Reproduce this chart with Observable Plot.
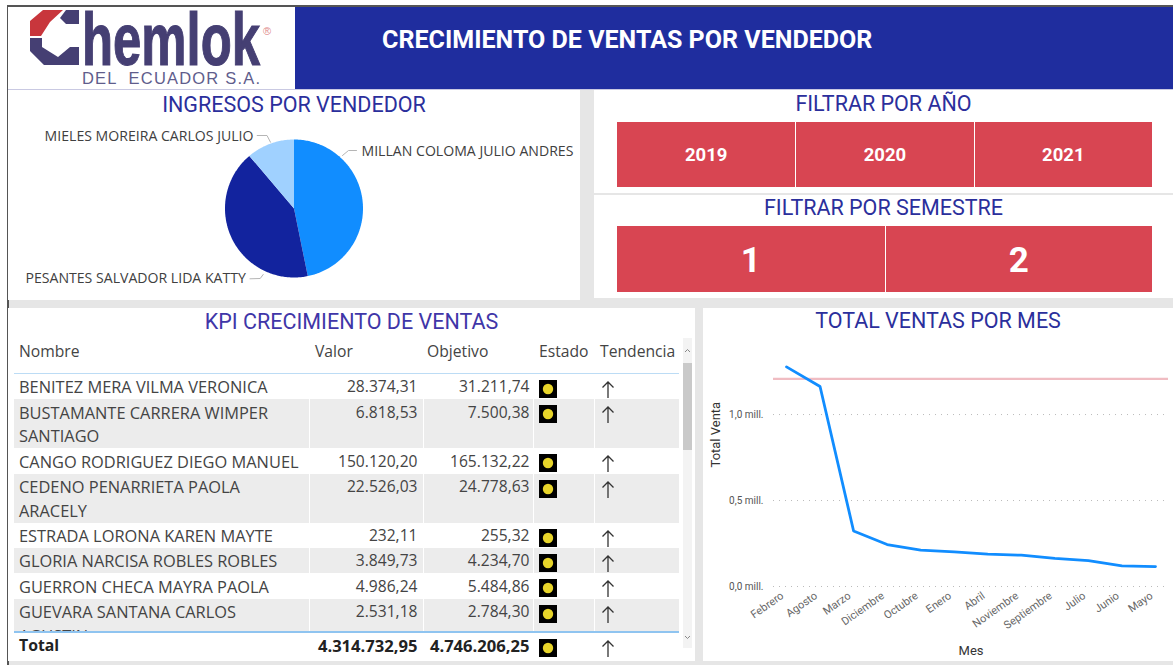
<!DOCTYPE html>
<html lang="es"><head><meta charset="utf-8">
<script src="https://cdn.jsdelivr.net/npm/d3@7"></script>
<script src="https://cdn.jsdelivr.net/npm/@observablehq/plot@0.6"></script>
<style>
html,body{margin:0;padding:0;background:#fff;overflow:hidden}
#page{position:relative;width:1173px;height:665px;background:#e6e6e6;overflow:hidden;font-family:"Open Sans",sans-serif}
.abs{position:absolute}
.panel{position:absolute;background:#fff}
.ttl{position:absolute;text-align:center;font-family:Roboto,sans-serif;color:#2b2f9c;font-size:21.5px;line-height:26px;white-space:nowrap}
.btn{position:absolute;background:#d84552;color:#fff;font-family:Roboto,sans-serif;font-weight:700;display:flex;align-items:center;justify-content:center}
table{border-collapse:collapse;table-layout:fixed;font-size:16.4px;color:#444;line-height:23.6px}
td{padding:1.4px 0 .4px 5px;vertical-align:top}
td.n{text-align:right;font-size:15.6px;padding:1.4px 5px 0 0}
td.o{padding-right:3px}
td.g{padding-top:.9px}
td+td{border-left:1px solid #fff}
tr.alt td{background:#ececec}
.hd{position:absolute;font-size:15.7px;color:#444;line-height:20px;white-space:nowrap}
.ic{display:block;margin-top:5px}
#total td{font-size:15.8px;padding-top:.9px}
#total td.n{font-size:16.6px}
</style></head><body>
<div id="page">
  <div class="abs" style="left:0;top:0;width:1173px;height:5px;background:#fff"></div>
  <div class="abs" style="left:0;top:0;width:7px;height:665px;background:#fff"></div>
  <div class="abs" style="left:7px;top:5px;width:1166px;height:2px;background:#555"></div>
  <div class="abs" style="left:7px;top:5px;width:1.5px;height:660px;background:#555"></div>
  <div id="logo" class="panel" style="left:8px;top:7px;width:287px;height:83px"></div>
  <div class="panel" style="left:295px;top:7px;width:878px;height:82px;background:#1f2d9e"></div>
  <div class="abs" style="left:382px;top:25px;font:700 25.05px/30px Roboto,sans-serif;color:#fff;white-space:nowrap">CRECIMIENTO DE VENTAS POR VENDEDOR</div>

  <div id="pie" class="panel" style="left:8px;top:90px;width:572px;height:210px"></div>
  <div class="abs" style="left:8px;top:89px;width:1165px;height:1px;background:#c9c9e2"></div>
  <div class="ttl" style="left:8px;top:92px;width:572px">INGRESOS POR VENDEDOR</div>

  <div id="f1" class="panel" style="left:594px;top:90px;width:579px;height:103px"></div>
  <div class="ttl" style="left:594px;top:91px;width:579px">FILTRAR POR AÑO</div>
  <div id="years"></div>
  <div class="panel" style="left:594px;top:195px;width:579px;height:103px"></div>
  <div class="ttl" style="left:594px;top:195px;width:579px">FILTRAR POR SEMESTRE</div>
  <div id="sems"></div>

  <div class="panel" style="left:8px;top:308px;width:687px;height:353px"></div>
  <div class="ttl" style="left:8px;top:309px;width:687px;color:#3f36a8">KPI CRECIMIENTO DE VENTAS</div>
  <div id="heads"></div>
  <div class="abs" style="left:14px;top:373px;width:665px;height:1px;background:#bcdcf5"></div>
  <div id="body" class="abs" style="left:14px;top:374px;width:665px;height:257px;overflow:hidden"></div>
  <div class="abs" style="left:14px;top:631px;width:665px;height:2px;background:#8fc4f0"></div>
  <div id="total" class="abs" style="left:14px;top:633px;width:665px;height:26px"></div>
  <div class="abs" style="left:683px;top:338px;width:9px;height:310px;background:#f3f3f3"></div>
  <div class="abs" style="left:683px;top:363px;width:9px;height:87px;background:#c9c9c9"></div>
  <svg class="abs" style="left:683px;top:340px" width="9" height="306" fill="none" stroke="#888"><path d="M2 12L4.5 9.5L7 12"/><path d="M2 296L4.5 298.5L7 296"/></svg>

  <div id="line" class="panel" style="left:703px;top:308px;width:470px;height:353px"></div>
  <div class="ttl" style="left:703px;top:308px;width:470px">TOTAL VENTAS POR MES</div>
</div>
<script>
// ---- data ----
const vendedores = ["MILLAN COLOMA JULIO ANDRES","PESANTES SALVADOR LIDA KATTY","MIELES MOREIRA CARLOS JULIO"];
const ingresos = [46.8,42.0,11.2];
const pieColors = ["#118DFF","#12239E","#A0D1FF"];
const anios = ["2019","2020","2021"];
const semestres = ["1","2"];
const nombres = ["BENITEZ MERA VILMA VERONICA","BUSTAMANTE CARRERA WIMPER SANTIAGO","CANGO RODRIGUEZ DIEGO MANUEL","CEDENO PENARRIETA PAOLA ARACELY","ESTRADA LORONA KAREN MAYTE","GLORIA NARCISA ROBLES ROBLES","GUERRON CHECA MAYRA PAOLA","GUEVARA SANTANA CARLOS AGUSTIN"];
const valores = ["28.374,31","6.818,53","150.120,20","22.526,03","232,11","3.849,73","4.986,24","2.531,18"];
const objetivos = ["31.211,74","7.500,38","165.132,22","24.778,63","255,32","4.234,70","5.484,86","2.784,30"];
const totalValor = "4.314.732,95", totalObjetivo = "4.746.206,25";
const encabezados = ["Nombre","Valor","Objetivo","Estado","Tendencia"];
const meses = ["Febrero","Agosto","Marzo","Diciembre","Octubre","Enero","Abril","Noviembre","Septiembre","Julio","Junio","Mayo"];
const ventas = [1.277,1.163,0.323,0.244,0.211,0.201,0.188,0.182,0.163,0.151,0.120,0.116];
const meta = 1.207;

const $ = id => document.getElementById(id);

// ---- logo (decoration) ----
$("logo").innerHTML = `<svg width="287" height="83">
<polygon points="22,29 22,14 35,3 55,3 42,15 33,29" fill="#c8363c"/>
<polygon points="58,3 71,3 71,17 58,17 52,11" fill="#453f73"/>
<polygon points="22,31 34,31 34,40 50,50 62,40 71,40 71,58 55,58 36,58 22,44" fill="#453f73"/>
<text x="74" y="58" font-family="Liberation Sans" font-weight="700" font-size="75" fill="#453f73" stroke="#453f73" stroke-width="1.2" textLength="178" lengthAdjust="spacingAndGlyphs">hemlok</text>
<text x="255" y="28" font-family="Liberation Sans" font-size="11" fill="#e08a8a">®</text>
<text x="74" y="77" font-family="Liberation Sans" font-size="16.5" fill="#5f5d8c" textLength="178" xml:space="preserve">DEL  ECUADOR S.A.</text></svg>`;

// ---- pie ----
const cx = 285.5, cy = 118, r = 69;
const arcs = d3.pie().sort(null)(ingresos);
const sectors = arcs.map((a,i) => {
  const n = Math.ceil((a.endAngle-a.startAngle)*60), ring = [[cx,cy]];
  for (let k=0;k<=n;k++){ const t=a.startAngle+(a.endAngle-a.startAngle)*k/n; ring.push([cx+r*Math.sin(t),cy-r*Math.cos(t)]); }
  ring.push([cx,cy]);
  return {type:"Feature",properties:{name:vendedores[i]},geometry:{type:"Polygon",coordinates:[ring]}};
});
const leaders = [
  {type:"LineString",coordinates:[[334,65],[340,60],[348,60]]},
  {type:"LineString",coordinates:[[248.7,45],[258.5,45],[262,51.7]]},
  {type:"LineString",coordinates:[[241.5,188.3],[251.7,188],[254.7,184]]}
];
const pieLabels = [
  {name:vendedores[0],px:353,py:61,a:"start"},
  {name:vendedores[1],px:237.4,py:188,a:"end"},
  {name:vendedores[2],px:245,py:46,a:"end"}
];
const labelFont = {fontSize:14.1,fill:"#404040",fontFamily:'"Open Sans",sans-serif'};
$("pie").append(Plot.plot({
  width:572,height:210,margin:0,
  style:{background:"transparent",overflow:"visible"},
  projection:{type:"identity"},
  color:{domain:vendedores,range:pieColors},
  marks:[
    Plot.geo(sectors,{fill:d=>d.properties.name}),
    Plot.geo(leaders,{stroke:"#b5b5b5",strokeWidth:1,fill:"none"}),
    Plot.text(pieLabels.filter(d=>d.a==="start"),{x:"px",y:"py",text:"name",textAnchor:"start",...labelFont}),
    Plot.text(pieLabels.filter(d=>d.a==="end"),{x:"px",y:"py",text:"name",textAnchor:"end",...labelFont})
  ]
}));

// ---- slicers ----
function buttons(host, labels, left, top, w, h, fs, pad){
  const bw = w/labels.length;
  labels.forEach((t,i)=>{
    const b=document.createElement("div"); b.className="btn"; b.textContent=t;
    b.style.cssText=`left:${left+i*bw+(i?1:0)}px;top:${top}px;width:${bw-(i?1:0)}px;height:${h-pad}px;padding-top:${pad}px;font-size:${fs}px`;
    host.append(b);
  });
}
buttons($("years"),anios,617,122,535,65,18.5,0);
buttons($("sems"),semestres,617,226,535,66,35,3);

// ---- table ----
const hx=[19,315,427,539,600];
$("heads").innerHTML = encabezados.map((t,i)=>`<div class="hd" style="left:${hx[i]}px;top:341px">${t}</div>`).join("");
const colgroup = `<colgroup><col style="width:295px"><col style="width:114px"><col style="width:110px"><col style="width:61px"><col style="width:85px"></colgroup>`;
const icon = `<svg class="ic" width="18" height="18"><rect width="18" height="18" fill="#000"/><circle cx="9" cy="9" r="5.2" fill="#e8d52a"/></svg>`;
const arrow = `<svg class="ic" width="18" height="18" fill="none" stroke="#333" stroke-width="1.3"><path d="M7 18V2M1.5 7.5L7 2L12.5 7.5"/></svg>`;
const row = (n,v,o,cls) => `<tr class="${cls}"><td>${n}</td><td class="n">${v}</td><td class="n o">${o}</td><td class="g" style="padding-left:5px">${icon}</td><td class="g" style="padding-left:6px">${arrow}</td></tr>`;
$("body").innerHTML = `<table style="width:665px">${colgroup}${nombres.map((n,i)=>row(n,valores[i],objetivos[i],i%2?"alt":"")).join("")}</table>`;
$("total").innerHTML = `<table style="width:665px;color:#222;font-weight:700">${colgroup}${row("Total",totalValor,totalObjetivo,"")}</table>`;

// ---- line chart ----
const serie = meses.map((m,i)=>({mes:m,venta:ventas[i]}));
const axisTitle = {fontSize:13,fill:"#333",lineAnchor:"middle"};
$("line").append(Plot.plot({
  width:470,height:353,marginLeft:70,marginRight:5,marginTop:40,marginBottom:75,
  style:{background:"transparent",fontFamily:"Roboto,sans-serif",overflow:"visible"},
  x:{type:"point",domain:meses,padding:0,round:false,insetLeft:13,insetRight:13},
  y:{domain:[0,1.384]},
  marks:[
    Plot.gridY([0,0.5,1],{stroke:"#bbb",strokeOpacity:1,strokeDasharray:"1 5"}),
    Plot.axisY({ticks:[0,0.5,1],tickSize:0,tickPadding:10,fontSize:10,fill:"#555",
      tickFormat:d=>d.toFixed(1).replace(".",",")+" mill.",label:null}),
    Plot.axisX({tickSize:0,tickRotate:-35,tickPadding:8,dx:-4,fontSize:11,fill:"#666",label:null}),
    Plot.text(["Total Venta"],{frameAnchor:"left",rotate:-90,dx:-58,...axisTitle}),
    Plot.text(["Mes"],{frameAnchor:"bottom",dy:64,...axisTitle}),
    Plot.ruleY([meta],{stroke:"#f0bcc2",strokeWidth:2.2}),
    Plot.lineY(serie,{x:"mes",y:"venta",stroke:"#118DFF",strokeWidth:2.8,curve:"linear"})
  ]
}));
</script>
</body></html>
